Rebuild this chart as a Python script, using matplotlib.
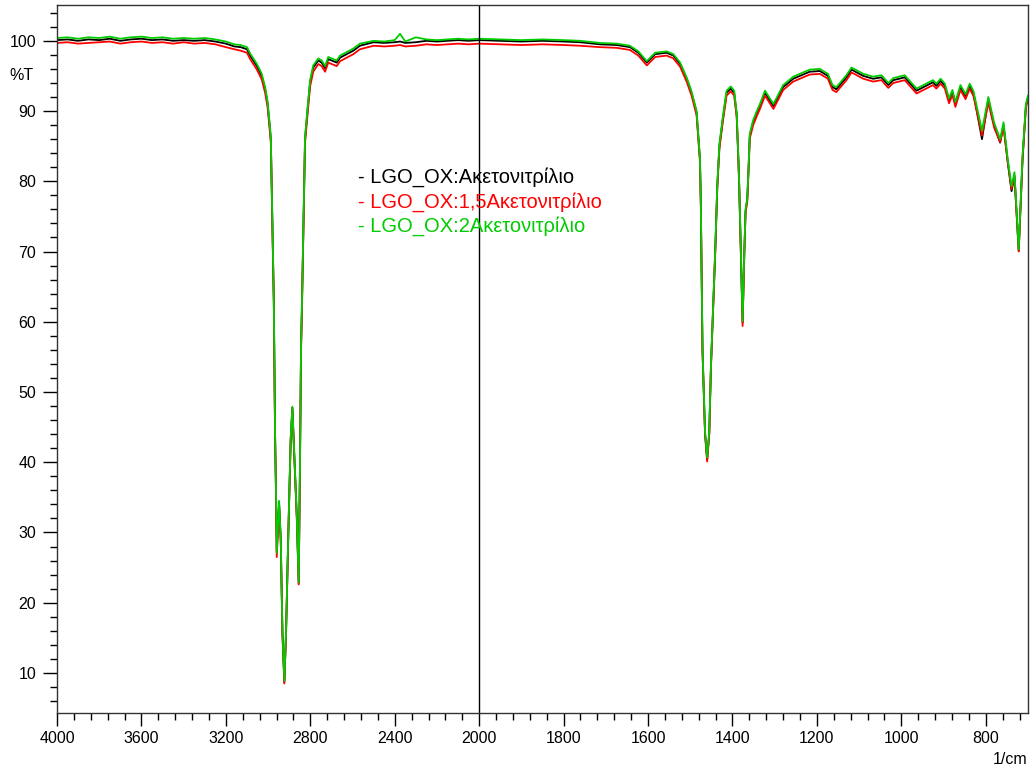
# FTIR spectra, LGO_OX in acetonitrile
import numpy as np
import matplotlib
matplotlib.use('Agg')
import matplotlib.pyplot as plt
from matplotlib.ticker import FixedLocator

plt.rcParams['font.family'] = ['Liberation Sans', 'DejaVu Sans']

wavenumber = [
    4000, 3950, 3900, 3850, 3800, 3750, 3700, 3650, 3600, 3550,
    3500, 3450, 3400, 3350, 3300, 3250, 3200, 3160, 3130, 3100,
    3085, 3053, 3030, 3014, 3003, 2994, 2987, 2973, 2967, 2962,
    2959, 2953, 2948, 2940, 2932, 2923, 2915, 2904, 2893, 2885,
    2877, 2864, 2855, 2849, 2844, 2839, 2825, 2814, 2801, 2786,
    2762, 2746, 2730, 2715, 2699, 2675, 2659, 2628, 2596, 2565,
    2500, 2450, 2400, 2375, 2350, 2300, 2250, 2200, 2150, 2100,
    2050, 2000, 1950, 1900, 1850, 1800, 1761, 1714, 1674, 1643,
    1623, 1603, 1583, 1556, 1540, 1524, 1508, 1497, 1485, 1477,
    1475, 1471, 1465, 1460, 1455, 1451, 1447, 1441, 1436, 1431,
    1423, 1414, 1404, 1396, 1390, 1386, 1384, 1380, 1376, 1372,
    1369, 1365, 1362, 1359, 1351, 1343, 1335, 1323, 1303, 1280,
    1256, 1217, 1193, 1174, 1163, 1154, 1130, 1118, 1090, 1067,
    1047, 1031, 1019, 992, 964, 941, 925, 917, 907, 897,
    887, 879, 872, 860, 848, 838, 829, 809, 794, 780,
    766, 758, 748, 739, 732, 722, 713, 705, 700]

t_acn = [
    100.1, 100.2, 100.0, 100.2, 100.1, 100.3, 100.0, 100.2, 100.3, 100.1,
    100.2, 100.0, 100.1, 100.0, 100.1, 99.9, 99.6, 99.2, 99.1, 98.8,
    97.9, 96.4, 95.0, 93.1, 91.2, 88.4, 86.0, 63.2, 44.2, 34.7,
    27.2, 31.0, 34.3, 29.0, 15.7, 8.7, 15.7, 30.0, 43.2, 47.8,
    41.8, 32.3, 22.8, 39.4, 56.1, 63.2, 86.0, 89.8, 94.1, 96.2,
    97.2, 96.9, 96.1, 97.4, 97.2, 96.9, 97.6, 98.1, 98.6, 99.3,
    99.8, 99.7, 99.8, 99.9, 99.7, 99.8, 100.0, 99.9, 100.0, 100.1,
    100.0, 100.1, 100.0, 99.9, 100.0, 99.9, 99.8, 99.5, 99.4, 99.1,
    98.3, 96.9, 98.1, 98.3, 97.9, 96.7, 94.5, 92.6, 89.8, 83.1,
    77.0, 56.0, 44.2, 40.4, 44.2, 53.7, 60.0, 69.8, 79.3, 85.0,
    88.8, 92.6, 93.2, 92.6, 89.5, 83.1, 79.3, 69.8, 59.9, 69.8,
    75.8, 77.4, 81.7, 86.5, 88.4, 89.6, 90.7, 92.6, 90.7, 93.4,
    94.6, 95.6, 95.7, 95.0, 93.4, 93.1, 94.8, 95.9, 95.0, 94.6,
    94.8, 93.7, 94.4, 94.8, 92.9, 93.6, 94.1, 93.6, 94.3, 93.6,
    91.5, 92.7, 91.0, 93.4, 92.1, 93.6, 92.5, 86.0, 91.7, 87.9,
    85.5, 88.0, 82.7, 78.6, 80.8, 70.1, 83.1, 90.7, 92.0]

t_acn15 = [
    99.7, 99.8, 99.6, 99.7, 99.8, 99.9, 99.6, 99.8, 99.9, 99.7,
    99.8, 99.6, 99.8, 99.6, 99.7, 99.5, 99.1, 98.8, 98.6, 98.3,
    97.4, 95.9, 94.5, 92.6, 90.7, 87.9, 85.5, 62.8, 43.9, 34.3,
    26.5, 30.6, 34.0, 28.7, 15.5, 8.5, 15.5, 29.8, 43.0, 47.5,
    41.5, 32.0, 22.6, 39.0, 55.6, 62.7, 85.4, 89.2, 93.5, 95.6,
    96.7, 96.4, 95.6, 96.9, 96.7, 96.4, 97.1, 97.6, 98.1, 98.8,
    99.3, 99.2, 99.3, 99.4, 99.2, 99.3, 99.5, 99.4, 99.5, 99.6,
    99.5, 99.6, 99.5, 99.4, 99.5, 99.4, 99.3, 99.1, 99.0, 98.7,
    97.9, 96.5, 97.7, 97.9, 97.5, 96.3, 94.1, 92.2, 89.4, 82.7,
    76.6, 55.6, 43.9, 40.1, 43.9, 53.4, 59.7, 69.5, 79.0, 84.6,
    88.4, 92.2, 92.8, 92.2, 89.1, 82.8, 79.0, 69.5, 59.4, 69.5,
    75.5, 77.1, 81.4, 86.1, 88.0, 89.2, 90.3, 92.2, 90.3, 93.0,
    94.2, 95.2, 95.3, 94.6, 93.0, 92.7, 94.4, 95.5, 94.6, 94.2,
    94.4, 93.3, 94.0, 94.4, 92.5, 93.2, 93.7, 93.2, 93.9, 93.2,
    91.1, 92.3, 90.6, 93.0, 91.7, 93.2, 92.1, 86.5, 91.2, 87.6,
    85.6, 87.7, 82.8, 78.9, 80.6, 70.0, 83.0, 90.5, 91.8]

t_acn2 = [
    100.4, 100.5, 100.3, 100.5, 100.4, 100.6, 100.3, 100.5, 100.6, 100.4,
    100.5, 100.3, 100.4, 100.3, 100.4, 100.2, 99.9, 99.5, 99.4, 99.1,
    98.2, 96.7, 95.3, 93.4, 91.5, 88.7, 86.3, 63.5, 44.4, 34.9,
    27.1, 31.2, 34.5, 29.2, 15.9, 8.9, 15.9, 30.2, 43.4, 47.9,
    42.0, 32.5, 22.9, 39.6, 56.4, 63.5, 86.3, 90.1, 94.4, 96.5,
    97.5, 97.2, 96.4, 97.7, 97.5, 97.2, 97.9, 98.4, 98.9, 99.6,
    100.0, 99.9, 100.1, 101.0, 99.9, 100.5, 100.2, 100.1, 100.2, 100.3,
    100.2, 100.3, 100.2, 100.1, 100.2, 100.1, 100.0, 99.7, 99.6, 99.3,
    98.5, 97.1, 98.3, 98.5, 98.1, 96.9, 94.7, 92.8, 90.0, 83.3,
    77.2, 56.2, 44.4, 40.7, 44.4, 53.9, 60.2, 70.0, 79.5, 85.3,
    89.1, 92.9, 93.5, 92.9, 89.7, 83.3, 79.5, 70.0, 60.1, 70.0,
    76.0, 77.6, 81.9, 86.8, 88.7, 89.9, 91.0, 92.9, 91.0, 93.7,
    94.9, 95.9, 96.0, 95.3, 93.7, 93.4, 95.1, 96.2, 95.3, 94.9,
    95.1, 94.0, 94.7, 95.1, 93.2, 93.9, 94.4, 93.9, 94.6, 93.9,
    91.8, 93.0, 91.3, 93.7, 92.4, 93.9, 92.8, 87.2, 92.0, 88.3,
    86.0, 88.4, 83.2, 79.3, 81.3, 70.3, 83.6, 91.0, 92.2]

labels = ['- LGO_OX:Ακετονιτρίλιο', '- LGO_OX:1,5Ακετονιτρίλιο', '- LGO_OX:2Ακετονιτρίλιο']
colors = ['black', 'red', '#00cc00']
x_major = [4000, 3600, 3200, 2800, 2400, 2000, 1800, 1600, 1400, 1200, 1000, 800]
y_major = [10, 20, 30, 40, 50, 60, 70, 80, 90, 100]


# below 2000 1/cm the axis is stretched 2x (instrument style)
def fwd(x):
    x = np.asarray(x, dtype=float)
    return np.where(x >= 2000, x, 2 * x - 2000)


def inv(v):
    v = np.asarray(v, dtype=float)
    return np.where(v >= 2000, v, (v + 2000) / 2)


fig = plt.figure(figsize=(10.35, 7.69), dpi=100)
ax = fig.add_axes([57 / 1035, 1 - 713 / 769, (1028 - 57) / 1035, (713 - 5) / 769])
ax.set_xscale('function', functions=(fwd, inv))

for t, c in zip([t_acn, t_acn15, t_acn2], colors):
    ax.plot(wavenumber, t, color=c, linewidth=1.3)

ax.axvline(2000, color='black', linewidth=1)
ax.set_xlim(4000, 700)
ax.set_ylim(4.3, 105.1)

ax.xaxis.set_major_locator(FixedLocator(x_major))
ax.set_xticklabels([str(v) for v in x_major])
ax.xaxis.set_minor_locator(FixedLocator(list(np.arange(4000, 1999, -80)) + list(np.arange(2000, 699, -40))))
ax.yaxis.set_major_locator(FixedLocator(y_major))
ax.set_yticklabels([str(v) for v in y_major])
ax.yaxis.set_minor_locator(FixedLocator(list(range(6, 105, 2))))

ax.tick_params(axis='x', which='major', length=9, width=1, labelsize=11.5, pad=4)
ax.tick_params(axis='x', which='minor', length=5, width=1)
ax.tick_params(axis='y', which='major', length=10, width=1, labelsize=11.5, pad=5)
ax.tick_params(axis='y', which='minor', length=5, width=1)
for s in ax.spines.values():
    s.set_color('#333333')
    s.set_linewidth(1)

fig.text(34 / 1035, 1 - 75 / 769, '%T', ha='right', va='center', fontsize=11.5)
fig.text(1027 / 1035, 1 - 760 / 769, '1/cm', ha='right', va='center', fontsize=11.5)

for lab, c, yp in zip(labels, colors, [177, 202, 226]):
    fig.text(358 / 1035, 1 - yp / 769, lab, color=c, ha='left', va='center', fontsize=14.5)

fig.savefig('out.png', dpi=100)
